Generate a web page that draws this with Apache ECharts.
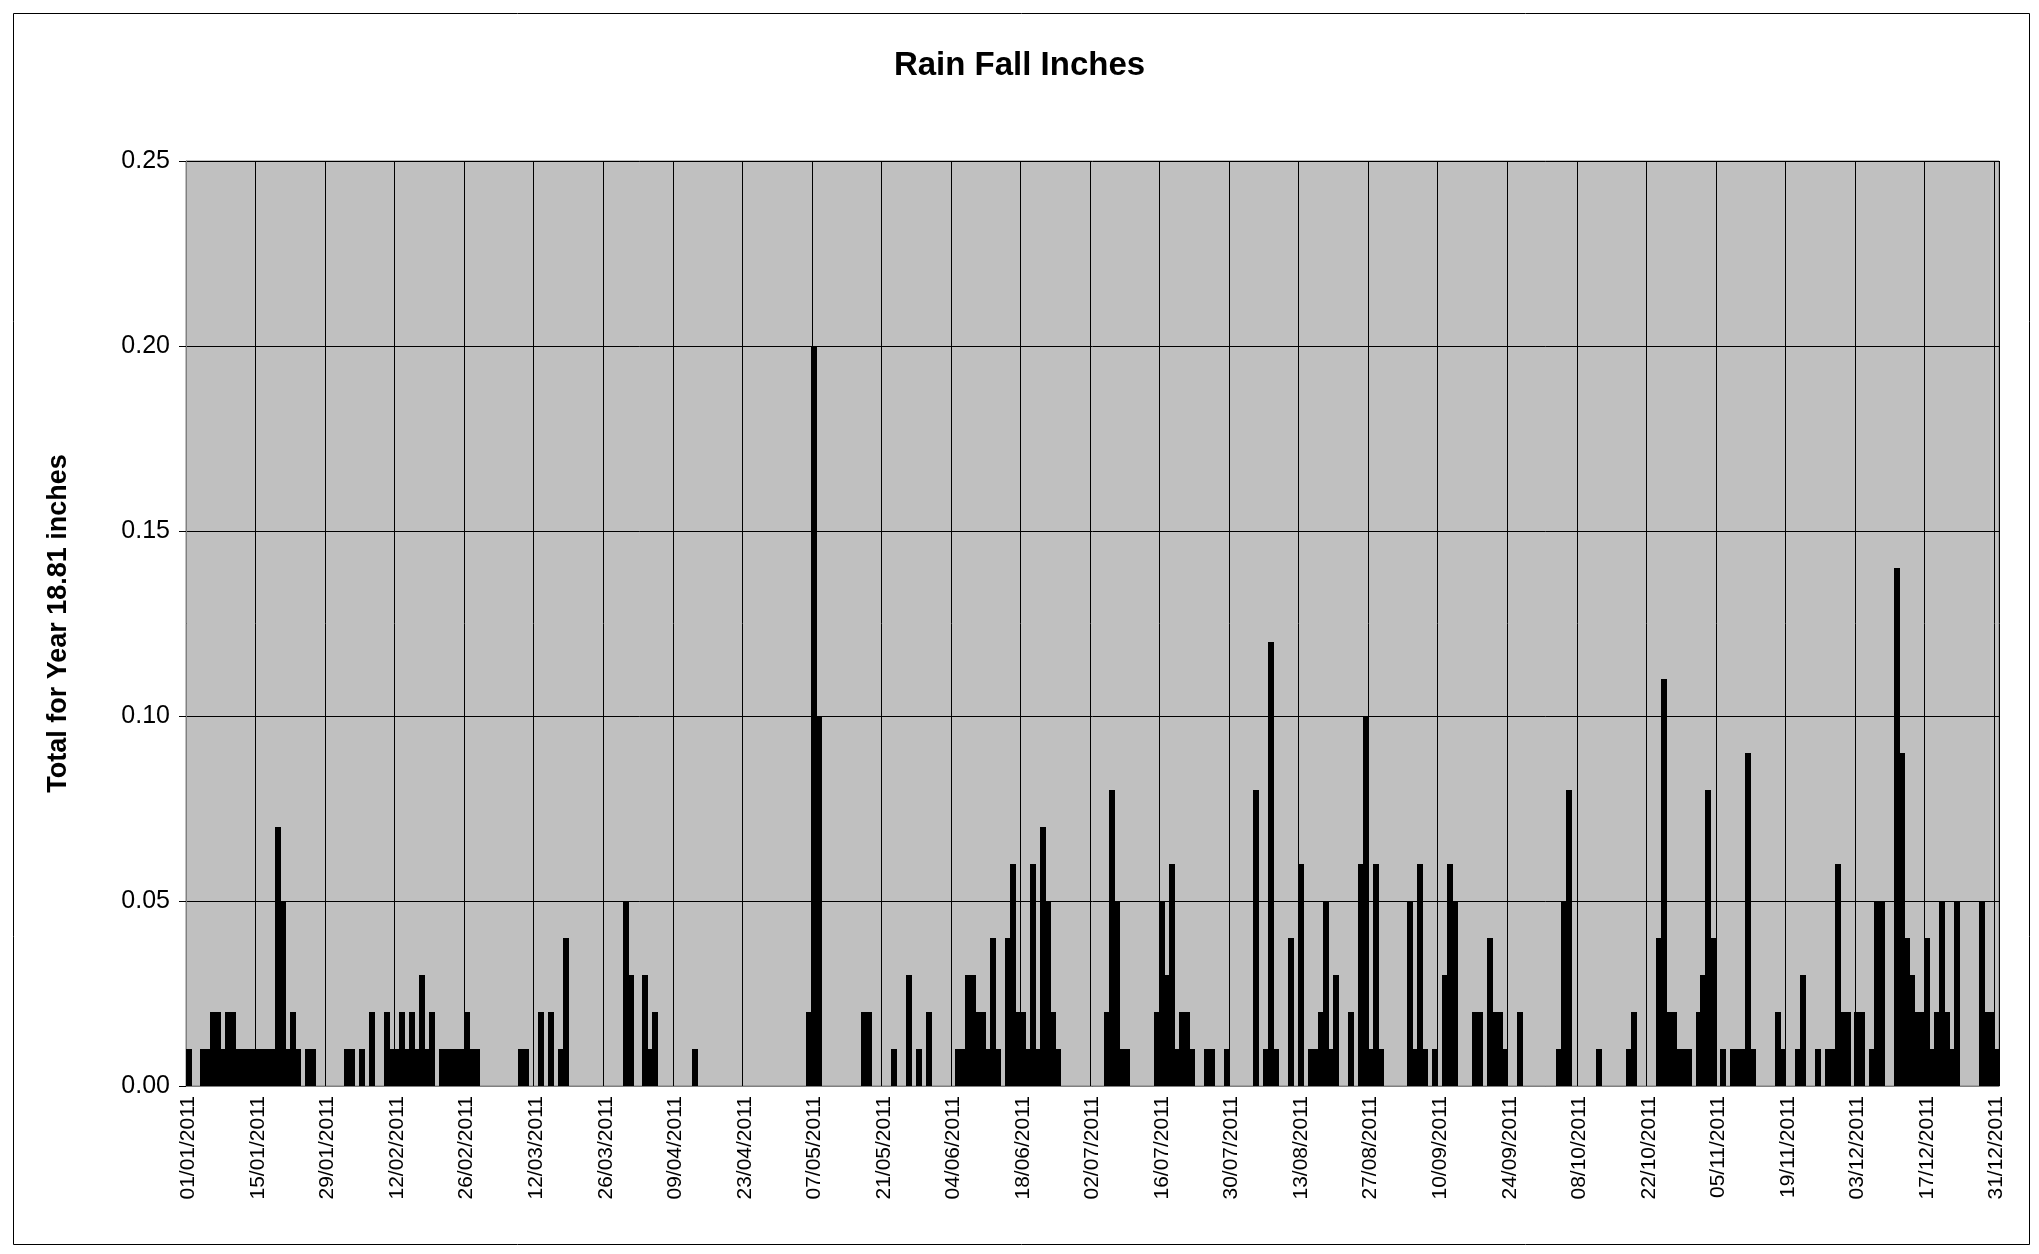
<!DOCTYPE html>
<html>
<head>
<meta charset="utf-8">
<script src="https://cdn.jsdelivr.net/npm/echarts@6/dist/echarts.min.js"></script>
<style>html,body{margin:0;padding:0;background:#fff}#c{width:2039px;height:1254px}</style>
</head>
<body>
<div id="c"></div>
<script>
// Daily rainfall (inches), 2011, one array per month
const jan = [0.01,0,0,0.01,0.01,0.02,0.02,0.01,0.02,0.02,0.01,0.01,0.01,0.01,0.01,0.01,0.01,0.01,0.07,0.05,0.01,0.02,0.01,0,0.01,0.01,0,0,0,0,0];
const feb = [0,0.01,0.01,0,0.01,0,0.02,0,0,0.02,0.01,0.01,0.02,0.01,0.02,0.01,0.03,0.01,0.02,0,0.01,0.01,0.01,0.01,0.01,0.02,0.01,0.01];
const mar = [0,0,0,0,0,0,0,0,0.01,0.01,0,0,0.02,0,0.02,0,0.01,0.04,0,0,0,0,0,0,0,0,0,0,0,0.05,0.03];
const apr = [0,0,0.03,0.01,0.02,0,0,0,0,0,0,0,0.01,0,0,0,0,0,0,0,0,0,0,0,0,0,0,0,0,0];
const may = [0,0,0,0,0,0.02,0.20,0.10,0,0,0,0,0,0,0,0,0.02,0.02,0,0,0,0,0.01,0,0,0.03,0,0.01,0,0.02,0];
const jun = [0,0,0,0,0.01,0.01,0.03,0.03,0.02,0.02,0.01,0.04,0.01,0,0.04,0.06,0.02,0.02,0.01,0.06,0.01,0.07,0.05,0.02,0.01,0,0,0,0,0];
const jul = [0,0,0,0,0.02,0.08,0.05,0.01,0.01,0,0,0,0,0,0.02,0.05,0.03,0.06,0.01,0.02,0.02,0.01,0,0,0.01,0.01,0,0,0.01,0,0];
const aug = [0,0,0,0.08,0,0.01,0.12,0.01,0,0,0.04,0,0.06,0,0.01,0.01,0.02,0.05,0.01,0.03,0,0,0.02,0,0.06,0.10,0.01,0.06,0.01,0,0];
const sep = [0,0,0,0.05,0.01,0.06,0.01,0,0.01,0,0.03,0.06,0.05,0,0,0,0.02,0.02,0,0.04,0.02,0.02,0.01,0,0,0.02,0,0,0,0];
const oct = [0,0,0,0.01,0.05,0.08,0,0,0,0,0,0.01,0,0,0,0,0,0.01,0.02,0,0,0,0,0.04,0.11,0.02,0.02,0.01,0.01,0.01,0];
const nov = [0.02,0.03,0.08,0.04,0,0.01,0,0.01,0.01,0.01,0.09,0.01,0,0,0,0,0.02,0.01,0,0,0.01,0.03,0,0,0.01,0,0.01,0.01,0.06,0.02];
const dec = [0.02,0,0.02,0.02,0,0.01,0.05,0.05,0,0,0.14,0.09,0.04,0.03,0.02,0.02,0.04,0.01,0.02,0.05,0.02,0.01,0.05,0,0,0,0,0.05,0.02,0.02,0.01];

const months = [jan,feb,mar,apr,may,jun,jul,aug,sep,oct,nov,dec];
const year = 2011;
const yTicks = [0, 0.05, 0.10, 0.15, 0.20, 0.25];

const categories = [];
const values = [];
months.forEach((arr, mi) => {
  arr.forEach((v, di) => {
    const dd = String(di + 1).padStart(2, '0');
    const mm = String(mi + 1).padStart(2, '0');
    categories.push(dd + '/' + mm + '/' + year);
    values.push(v);
  });
});
const seriesData = values.map((v, i) => [i, v]);

const FONT = '"Liberation Sans", Arial, sans-serif';
const chart = echarts.init(document.getElementById('c'), null, {renderer: 'canvas'});
chart.setOption({
  animation: false,
  backgroundColor: '#ffffff',
  title: {
    text: 'Rain Fall Inches',
    left: 'center',
    top: 44,
    textStyle: {fontFamily: FONT, fontWeight: 'bold', fontSize: 33, color: '#000'}
  },
  graphic: [{
    type: 'rect',
    left: 11, top: 11,
    shape: {width: 2016, height: 1231},
    style: {fill: 'none', stroke: '#000', lineWidth: 1},
    silent: true
  }],
  grid: {
    left: 186, right: 40, top: 161, bottom: 168,
    show: true, backgroundColor: '#C0C0C0', borderColor: '#808080', borderWidth: 1
  },
  xAxis: {
    type: 'category',
    data: categories,
    boundaryGap: true,
    axisLine: {lineStyle: {color: '#808080', width: 1}},
    axisTick: {interval: 13, length: 7, lineStyle: {color: '#000'}},
    axisLabel: {interval: 13, rotate: 90, fontSize: 21, color: '#000', fontFamily: FONT, margin: 10},
    splitLine: {show: true, interval: 13, lineStyle: {color: '#000', width: 1}}
  },
  yAxis: {
    type: 'value',
    min: yTicks[0],
    max: yTicks[yTicks.length - 1],
    interval: 0.05,
    name: 'Total for Year 18.81 inches',
    nameLocation: 'middle',
    nameGap: 114,
    nameTextStyle: {fontFamily: FONT, fontWeight: 'bold', fontSize: 27, color: '#000'},
    axisLine: {show: true, lineStyle: {color: '#808080', width: 1}},
    axisTick: {show: true, length: 7, lineStyle: {color: '#000'}},
    axisLabel: {formatter: v => v.toFixed(2), fontSize: 25, color: '#000', fontFamily: FONT, margin: 16},
    splitLine: {show: true, lineStyle: {color: '#000', width: 1}}
  },
  series: [{
    type: 'custom',
    data: seriesData,
    encode: {x: 0, y: 1},
    renderItem: function (params, api) {
      const v = api.value(1);
      if (!v) return null;
      const top = api.coord([api.value(0), v]);
      const base = api.coord([api.value(0), 0]);
      const w = api.size([1, 0])[0];
      const x0 = Math.floor(top[0] - w / 2);
      const y0 = Math.round(top[1]);
      return {
        type: 'rect',
        shape: {x: x0, y: y0, width: Math.ceil(w) + 1, height: Math.round(base[1]) - y0},
        style: {fill: '#000', lineWidth: 0}
      };
    }
  }]
});
</script>
</body>
</html>
